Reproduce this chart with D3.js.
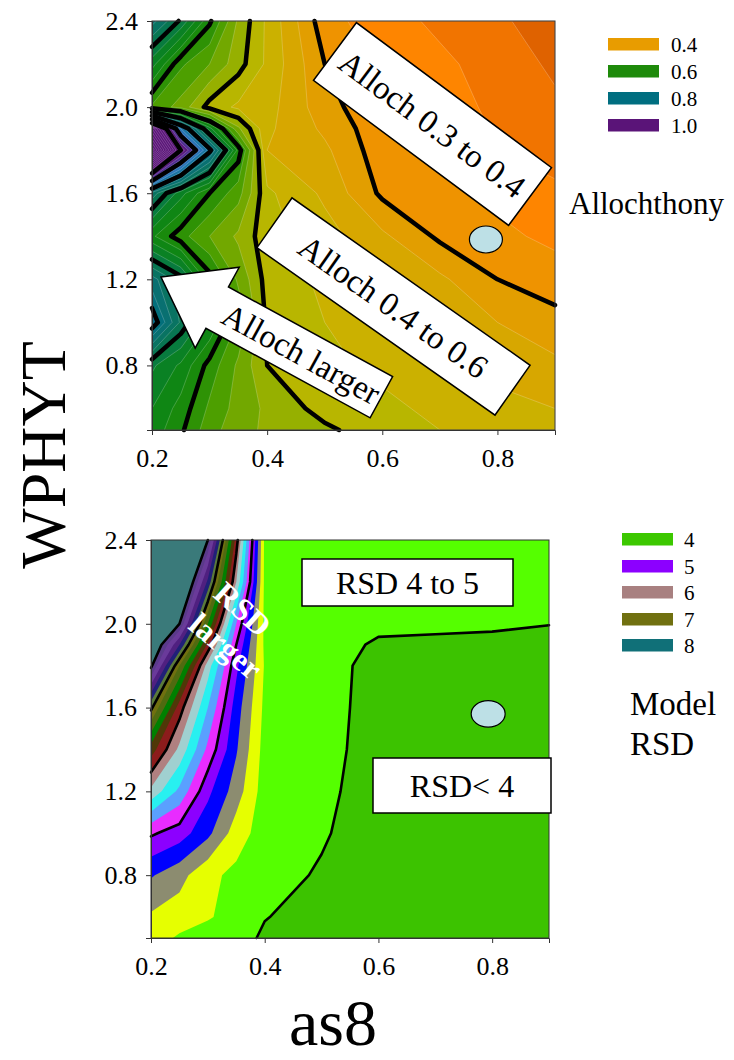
<!DOCTYPE html>
<html>
<head>
<meta charset="utf-8">
<script src="https://cdn.jsdelivr.net/npm/d3@7"></script>
<style>
  body { margin: 0; background: #fff; }
  svg { display: block; }
  text { font-family: "Liberation Serif", "Times New Roman", serif; fill: #000; }
</style>
</head>
<body>
<svg id="chart" width="734" height="1060"></svg>
<script>
// grid of the model runs (as8 across, WPHYT up)
var as8Grid = [0.2, 0.25, 0.3, 0.35, 0.4, 0.5, 0.6, 0.7, 0.8, 0.9];
var wphytGrid = [0.5, 0.6, 0.8, 1.0, 1.2, 1.4, 1.6, 1.8, 1.9, 2.0, 2.2, 2.4];

// allochthony, one row per WPHYT value (bottom to top)
var allochRows = [
  [0.64, 0.605, 0.56, 0.535, 0.52, 0.505, 0.485, 0.475, 0.465, 0.455],
  [0.65, 0.615, 0.57, 0.54, 0.52, 0.49, 0.48, 0.47, 0.46, 0.45],
  [0.68, 0.645, 0.59, 0.545, 0.50, 0.48, 0.47, 0.455, 0.44, 0.43],
  [0.82, 0.72, 0.65, 0.57, 0.495, 0.475, 0.46, 0.445, 0.425, 0.41],
  [0.76, 0.71, 0.61, 0.545, 0.49, 0.47, 0.45, 0.43, 0.40, 0.385],
  [0.63, 0.585, 0.55, 0.52, 0.485, 0.46, 0.43, 0.395, 0.38, 0.37],
  [0.74, 0.66, 0.60, 0.56, 0.48, 0.445, 0.395, 0.385, 0.37, 0.355],
  [1.30, 1.0, 0.81, 0.615, 0.45, 0.43, 0.385, 0.365, 0.35, 0.34],
  [1.15, 0.85, 0.66, 0.53, 0.455, 0.42, 0.383, 0.362, 0.348, 0.335],
  [0.57, 0.54, 0.49, 0.47, 0.46, 0.41, 0.38, 0.36, 0.345, 0.33],
  [0.66, 0.58, 0.55, 0.51, 0.47, 0.40, 0.37, 0.355, 0.34, 0.32],
  [0.76, 0.695, 0.605, 0.52, 0.47, 0.385, 0.36, 0.345, 0.33, 0.31]
];

// model RSD, same as8 grid
var rsdRows = [
  [4.3, 4.17, 4.1, 4.05, 3.98, 3.93, 3.9, 3.88, 3.87, 3.86],
  [4.37, 4.3, 4.22, 4.12, 4.005, 3.95, 3.9, 3.88, 3.87, 3.86],
  [4.62, 4.47, 4.25, 4.15, 4.07, 3.98, 3.9, 3.88, 3.87, 3.86],
  [5.03, 4.9, 4.65, 4.3, 4.1, 4.02, 3.9, 3.88, 3.87, 3.86],
  [5.75, 5.35, 4.85, 4.5, 4.1, 4.05, 3.9, 3.88, 3.87, 3.86],
  [6.3, 5.75, 5.15, 4.62, 4.12, 4.08, 3.9, 3.88, 3.87, 3.86],
  [7.05, 6.1, 5.4, 4.7, 4.15, 4.1, 3.9, 3.88, 3.87, 3.86],
  [8.05, 6.8, 5.7, 4.85, 4.18, 4.12, 3.9, 3.88, 3.88, 3.87],
  [8.35, 7.4, 6.15, 5.0, 4.16, 4.1, 3.97, 3.96, 3.95, 3.93],
  [8.6, 8.0, 6.6, 5.2, 4.15, 4.08, 4.05, 4.04, 4.03, 4.005],
  [8.9, 8.6, 7.35, 5.8, 4.15, 4.1, 4.06, 4.05, 4.04, 4.02],
  [9.1, 8.8, 8.0, 6.1, 4.15, 4.1, 4.07, 4.06, 4.05, 4.04]
];

var allochLines = [0.4, 0.5, 0.6, 0.7, 0.8, 0.9, 1.0];
var rsdLines = [4, 5, 6, 7, 8];
var xTicks = [0.2, 0.4, 0.6, 0.8];
var yTicks = [0.8, 1.2, 1.6, 2.0, 2.4];
var allochLegend = ['0.4', '0.6', '0.8', '1.0'];
var rsdLegend = ['4', '5', '6', '7', '8'];
// observed sample location
var sitePoint = { as8: 0.78, wphyt: 1.385 };
var sitePointRsd = { as8: 0.793, wphyt: 1.57 };

var allochColor = d3.scaleLinear()
  .domain([0.30, 0.33, 0.36, 0.40, 0.44, 0.48, 0.52, 0.56, 0.60, 0.65, 0.70, 0.76, 0.80, 0.86, 0.92, 0.97])
  .range(['#d65a00', '#ec6e00', '#ff8400', '#e89a00', '#d6a800', '#c2b800', '#8cae00', '#50a000',
          '#1e8c08', '#0a8418', '#08784a', '#0a7070', '#006e80', '#2a78b8', '#4a3aa0', '#5a1478'])
  .clamp(true);
var allochLegendColors = ['#e89c00', '#1e8a0a', '#006e80', '#5a1478'];

var rsdBandColors = ['#55ff00', '#e6ff00', '#8c8c70', '#0000ff', '#8c00ff', '#e82cff', '#5aa0ff',
  '#28f0f0', '#a0d0d0', '#b08080', '#8c1c1c', '#503808', '#008000', '#506a10', '#707010',
  '#5a7a3a', '#202078', '#502080', '#6a3a9a', '#5a3a8a', '#3a7a7a'];
var rsdLegendColors = ['#3cc800', '#8c00ff', '#a88080', '#707010', '#107078'];

var svg = d3.select('#chart');

function drawPanel(cfg) {
  var n = as8Grid.length, m = wphytGrid.length;
  var x = d3.scaleLinear().domain([0.2, 0.9]).range(cfg.xRange);
  var y = d3.scaleLinear().domain([0.5, 2.4]).range(cfg.yRange);
  var ix = d3.scaleLinear().domain(d3.range(n)).range(as8Grid);
  var iy = d3.scaleLinear().domain(d3.range(m)).range(wphytGrid);
  var values = [].concat.apply([], cfg.rows);

  var cx = (c) => Math.max(0, Math.min(n - 1, c - 0.5));
  var cy = (c) => Math.max(0, Math.min(m - 1, c - 0.5));
  var toPx = (p) => [x(ix(cx(p[0]))).toFixed(2), y(iy(cy(p[1]))).toFixed(2)];

  var areaPath = (d) => d.coordinates.map((poly) =>
    poly.map((ring) => 'M' + ring.map(toPx).join('L') + 'Z').join('')).join('');

  // isolines without the pieces that run along the frame
  var linePath = (d) => {
    var out = '';
    d.coordinates.forEach((poly) => poly.forEach((ring) => {
      var pen = false;
      for (var k = 1; k < ring.length; k++) {
        var a = ring[k - 1], b = ring[k];
        var ax = cx(a[0]), bx = cx(b[0]), ay = cy(a[1]), by = cy(b[1]);
        var edge = (ax === 0 && bx === 0) || (ax === n - 1 && bx === n - 1) ||
                   (ay === 0 && by === 0) || (ay === m - 1 && by === m - 1);
        if (edge) { pen = false; continue; }
        if (!pen) { out += 'M' + toPx(a); pen = true; }
        out += 'L' + toPx(b);
      }
    }));
    return out;
  };

  var g = svg.append('g');
  var clipId = 'clip-' + cfg.name;
  g.append('clipPath').attr('id', clipId).append('rect')
    .attr('x', cfg.xRange[0]).attr('y', cfg.yRange[1])
    .attr('width', cfg.xRange[1] - cfg.xRange[0]).attr('height', cfg.yRange[0] - cfg.yRange[1]);

  var fills = g.append('g').attr('clip-path', 'url(#' + clipId + ')');
  fills.append('rect')
    .attr('x', cfg.xRange[0]).attr('y', cfg.yRange[1])
    .attr('width', cfg.xRange[1] - cfg.xRange[0]).attr('height', cfg.yRange[0] - cfg.yRange[1])
    .attr('fill', cfg.baseColor);

  var bands = d3.contours().size([n, m]).thresholds(cfg.fillLevels)(values);
  fills.selectAll('path.band').data(bands).join('path')
    .attr('class', 'band')
    .attr('d', areaPath)
    .attr('fill', (d, i) => cfg.bandColor(d, i))
    .attr('fill-rule', 'evenodd')
    .attr('stroke', cfg.bandStroke)
    .attr('stroke-width', 0.6);

  var isos = d3.contours().size([n, m]).thresholds(cfg.lineLevels)(values);
  g.append('g').selectAll('path').data(isos).join('path')
    .attr('d', linePath)
    .attr('fill', 'none')
    .attr('stroke', '#000')
    .attr('stroke-width', cfg.lineWidth)
    .attr('stroke-linejoin', 'round')
    .attr('stroke-linecap', 'round');

  g.append('rect')
    .attr('x', cfg.xRange[0]).attr('y', cfg.yRange[1])
    .attr('width', cfg.xRange[1] - cfg.xRange[0]).attr('height', cfg.yRange[0] - cfg.yRange[1])
    .attr('fill', 'none').attr('stroke', '#333').attr('stroke-width', 1);

  var fmt = d3.format('.1f');
  var yAxis = g.append('g').attr('transform', 'translate(' + cfg.xRange[0] + ',0)')
    .call(d3.axisLeft(y).tickValues(yTicks).tickFormat(fmt).tickSize(5).tickPadding(9));
  var xAxis = g.append('g').attr('transform', 'translate(0,' + cfg.yRange[0] + ')')
    .call(d3.axisBottom(x).tickValues(xTicks).tickFormat(fmt).tickSize(5).tickPadding(14));
  [xAxis, yAxis].forEach((a) => {
    a.attr('font-family', null).attr('font-size', null);
    a.selectAll('text').style('font-size', '26px').attr('fill', '#000');
    a.selectAll('line').attr('stroke', '#333');
    a.select('.domain').attr('stroke', '#333');
  });

  return { x: x, y: y, g: g };
}

// ---- top panel: allochthony ----
var fineLevels = d3.range(12, 52).map((i) => +(i * 0.025).toFixed(3));
var allochPanel = drawPanel({
  name: 'alloch', rows: allochRows,
  xRange: [152, 555], yRange: [430, 21],
  fillLevels: fineLevels,
  baseColor: allochColor(0.31),
  bandColor: (d) => allochColor(d.value + 0.0125),
  bandStroke: 'rgba(255,255,255,0.35)',
  lineLevels: allochLines, lineWidth: 4.5
});

// ---- bottom panel: model RSD ----
var rsdLevels = d3.range(0, 21).map((i) => +(4 + i * 0.2).toFixed(1));
var rsdPanel = drawPanel({
  name: 'rsd', rows: rsdRows,
  xRange: [151, 549], yRange: [938, 540],
  fillLevels: rsdLevels,
  baseColor: '#3cc300',
  bandColor: (d, i) => rsdBandColors[i],
  bandStroke: 'none',
  lineLevels: rsdLines, lineWidth: 2.6
});

// boxed notes
function boxLabel(g, cx, cy, w, h, angle, label, size) {
  var b = g.append('g').attr('transform', 'translate(' + cx + ',' + cy + ') rotate(' + angle + ')');
  b.append('rect').attr('x', -w / 2).attr('y', -h / 2).attr('width', w).attr('height', h)
    .attr('fill', '#fff').attr('stroke', '#000').attr('stroke-width', 1.5);
  b.append('text').attr('text-anchor', 'middle').attr('dy', '0.35em')
    .style('font-size', size + 'px').text(label);
}

boxLabel(allochPanel.g, 432.5, 124, 243, 72, 36.6, 'Alloch 0.3 to 0.4', 33);
boxLabel(allochPanel.g, 393.5, 306.5, 291, 61, 35.1, 'Alloch 0.4 to 0.6', 33);

var arrow = allochPanel.g.append('g').attr('transform', 'translate(161,277) rotate(28.6)');
arrow.append('path')
  .attr('d', 'M0,0L64,-46L64,-23.5L251,-23.5L251,23.5L64,23.5L64,46Z')
  .attr('fill', '#fff').attr('stroke', '#000').attr('stroke-width', 1.5);
arrow.append('text').attr('x', 160).attr('dy', '0.35em').attr('text-anchor', 'middle')
  .style('font-size', '33px').text('Alloch larger');

allochPanel.g.append('ellipse')
  .attr('cx', allochPanel.x(sitePoint.as8)).attr('cy', allochPanel.y(sitePoint.wphyt))
  .attr('rx', 16.5).attr('ry', 13.5)
  .attr('fill', '#bde0e6').attr('stroke', '#000').attr('stroke-width', 1.2);

function plainBox(g, x0, y0, x1, y1, label) {
  g.append('rect').attr('x', x0).attr('y', y0).attr('width', x1 - x0).attr('height', y1 - y0)
    .attr('fill', '#fff').attr('stroke', '#000').attr('stroke-width', 1.5);
  g.append('text').attr('x', (x0 + x1) / 2).attr('y', (y0 + y1) / 2).attr('dy', '0.35em')
    .attr('text-anchor', 'middle').style('font-size', '32px').text(label);
}
plainBox(rsdPanel.g, 302, 559, 513, 606, 'RSD 4 to 5');
plainBox(rsdPanel.g, 373, 758, 551, 813, 'RSD< 4');

rsdPanel.g.append('ellipse')
  .attr('cx', rsdPanel.x(sitePointRsd.as8)).attr('cy', rsdPanel.y(sitePointRsd.wphyt))
  .attr('rx', 17).attr('ry', 13.3)
  .attr('fill', '#bde0e6').attr('stroke', '#000').attr('stroke-width', 1.2);

var larger = rsdPanel.g.append('g').style('font-weight', 'bold').style('font-size', '32px');
larger.append('text').attr('transform', 'translate(243,609) rotate(42)')
  .attr('text-anchor', 'middle').attr('dy', '0.35em').style('fill', '#fff').text('RSD');
larger.append('text').attr('transform', 'translate(226,646) rotate(40)')
  .attr('text-anchor', 'middle').attr('dy', '0.35em').style('fill', '#fff').text('larger');

// legends
function legend(items, colors, x0, ys, tx) {
  var lg = svg.append('g');
  items.forEach((v, i) => {
    lg.append('rect').attr('x', x0).attr('y', ys[i]).attr('width', 51).attr('height', 12.5)
      .attr('fill', colors[i]);
    lg.append('text').attr('x', tx).attr('y', ys[i] + 6.5).attr('dy', '0.35em')
      .style('font-size', '21px').text(v);
  });
  return lg;
}
legend(allochLegend, allochLegendColors, 608, [38, 65, 92, 119], 671);
legend(rsdLegend, rsdLegendColors, 622, [533, 560, 586, 613, 639], 684);

svg.append('text').attr('x', 569).attr('y', 214).style('font-size', '31px').text('Allochthony');
svg.append('text').attr('x', 630).attr('y', 715).style('font-size', '33px').text('Model');
svg.append('text').attr('x', 630).attr('y', 755).style('font-size', '33px').text('RSD');

svg.append('text').attr('transform', 'translate(65,455) rotate(-90)')
  .attr('text-anchor', 'middle').style('font-size', '64px').text('WPHYT');
svg.append('text').attr('x', 333).attr('y', 1045)
  .attr('text-anchor', 'middle').style('font-size', '66px').text('as8');
</script>
</body>
</html>
